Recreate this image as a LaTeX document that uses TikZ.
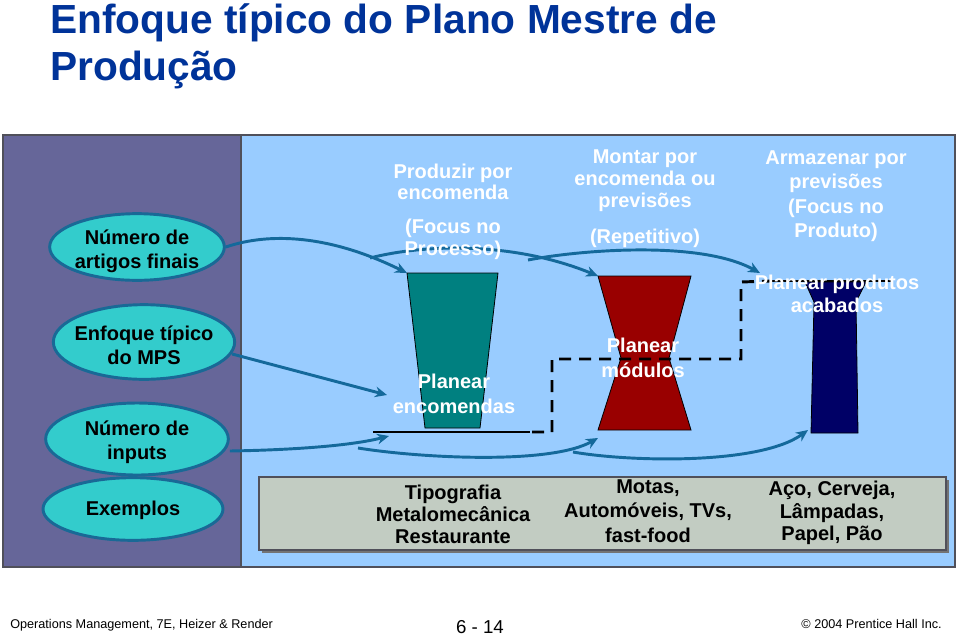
\documentclass[tikz,border=0pt]{standalone}
\usepackage{fontspec}
\setmainfont{Liberation Sans}
\usetikzlibrary{shapes.geometric,arrows.meta}
\definecolor{purplepanel}{RGB}{102,102,153}
\definecolor{bluepanel}{RGB}{153,204,255}
\definecolor{ellfill}{RGB}{51,204,204}
\definecolor{elledge}{RGB}{25,105,150}
\definecolor{arrowcol}{RGB}{20,105,155}
\definecolor{tealshape}{RGB}{0,128,128}
\definecolor{redshape}{RGB}{153,0,0}
\definecolor{navyshape}{RGB}{0,0,102}
\definecolor{titlecol}{RGB}{0,51,153}
\definecolor{boxfill}{RGB}{194,204,194}
\definecolor{framecol}{RGB}{80,80,90}
\tikzset{
  elli/.style={ellipse, draw=elledge, line width=2.2pt, fill=ellfill, inner sep=0pt},
  elltext/.style={align=center, inner sep=0pt, font=\fontsize{15}{18}\selectfont\bfseries, text=black},
  headtext/.style={align=center, inner sep=0pt, text=white},
  boxtext/.style={align=center, inner sep=0pt, text=black},
  flow/.style={draw=arrowcol, line width=2.2pt, -{Stealth[length=9pt,width=8pt]}},
  shapeedge/.style={draw=black, line width=0.6pt},
  bar/.style={draw=black, line width=2.2pt},
  dashedbar/.style={draw=black, line width=2.2pt, dash pattern=on 9pt off 6pt},
  titletext/.style={anchor=base west, inner sep=0pt, text=titlecol, font=\fontsize{30.5}{36}\selectfont\bfseries},
}
\begin{document}
\begin{tikzpicture}[x=0.75pt,y=-0.75pt]
\useasboundingbox (0,0) rectangle (959,636);
\fill[white] (0,0) rectangle (959,636);
% title
\node[titletext] (t1) at (50,33) {Enfoque típico do Plano Mestre de};
\node[titletext] (t2) at (50,80) {Produção};
% panels
\fill[bluepanel] (241,135) rectangle (955,567);
\fill[purplepanel] (3,135) rectangle (241,567);
\draw[framecol, line width=1pt] (241,135) -- (241,567);
\draw[framecol, line width=1.2pt] (3,135) rectangle (955,567);
% ellipses
\node[elli, minimum width=131pt, minimum height=50pt] (e1) at (137,247) {};
\node[elltext] at (137,251) {Número de\\artigos finais};
\node[elli, minimum width=136pt, minimum height=56pt] (e2) at (144,342) {};
\node[elltext] at (144,345) {Enfoque típico\\do MPS};
\node[elli, minimum width=137pt, minimum height=54pt] (e3) at (137,439) {};
\node[elltext] at (137,442) {Número de\\inputs};
\node[elli, minimum width=135pt, minimum height=47pt] (e4) at (133,509) {};
\node[elltext] at (133,510) {Exemplos};
% examples box
\fill[black!55] (262,480) rectangle (949,553);
\draw[fill=boxfill, draw=framecol, line width=1pt] (259,477) rectangle (946,550);
\node[boxtext, font=\fontsize{15}{16.5}\selectfont\bfseries] (x1) at (453,514) {Tipografia\\Metalomecânica\\Restaurante};
\node[boxtext, font=\fontsize{15}{18.3}\selectfont\bfseries] (x2) at (648,511) {Motas,\\Automóveis, TVs,\\fast-food};
\node[boxtext, font=\fontsize{15}{16.8}\selectfont\bfseries] (x3) at (832,513) {Aço, Cerveja,\\Lâmpadas,\\Papel, Pão};
% shapes
\coordinate (tTL) at (407,273); \coordinate (tTR) at (498,273);
\coordinate (tBR) at (480,428); \coordinate (tBL) at (425,428);
\filldraw[fill=tealshape, shapeedge] (tTL) -- (tTR) -- (tBR) -- (tBL) -- cycle;
\coordinate (rTL) at (598,276); \coordinate (rTR) at (691,276);
\coordinate (rMR) at (669,358); \coordinate (rBR) at (691,430);
\coordinate (rBL) at (598,430); \coordinate (rML) at (621,358);
\filldraw[fill=redshape, shapeedge] (rTL) -- (rTR) -- (rMR) -- (rBR) -- (rBL) -- (rML) -- cycle;
\coordinate (nTL) at (805,282); \coordinate (nTR) at (866,282);
\coordinate (nMR) at (856,302); \coordinate (nBR) at (858,433);
\coordinate (nBL) at (811,433); \coordinate (nML) at (814,302);
\filldraw[fill=navyshape, shapeedge] (nTL) -- (nTR) -- (nMR) -- (nBR) -- (nBL) -- (nML) -- cycle;
% bars
\coordinate (b1a) at (373,432); \coordinate (b1b) at (530,432);
\coordinate (b2a) at (770,281); \coordinate (b2b) at (892,281);
\draw[bar] (b1a) -- (b1b);
\draw[bar] (b2a) -- (b2b);
\draw[dashedbar] (532,432) -- (552,432) -- (552,359) -- (741,359) -- (741,282) -- (b2a);
% arrows
\coordinate (a2s) at (370,258);
\coordinate (a3s) at (528,260);
\coordinate (a3e) at (760,273);
\coordinate (a4e) at (387,395);
\coordinate (a5e) at (389,436);
\coordinate (a6s) at (358,448);
\coordinate (a7s) at (573,452);
\coordinate (a7e) at (808,430);
\coordinate (a6e) at (598,438);
\draw[flow] (e1.east) .. controls (270,232) and (330,235) .. (tTL);
\draw[flow] (a2s) .. controls (420,245) and (510,240) .. (rTL);
\draw[flow] (a3s) .. controls (580,250) and (700,240) .. (a3e);
\draw[flow] ([xshift=-3pt,yshift=-9pt]e2.east) -- (a4e);
\draw[flow] ([yshift=-9pt]e3.east) .. controls (290,450) and (350,446) .. (a5e);
\draw[flow] (a6s) .. controls (420,458) and (550,465) .. (a6e);
\draw[flow] (a7s) .. controls (630,462) and (760,465) .. (a7e);
% headings
\node[headtext, font=\fontsize{15}{15.8}\selectfont\bfseries] (h1) at (453,182) {Produzir por\\encomenda};
\node[headtext, font=\fontsize{15}{16.5}\selectfont\bfseries] (h1b) at (453,239) {(Focus no\\Processo)};
\node[headtext, font=\fontsize{15}{16.5}\selectfont\bfseries] (h2) at (645,181) {Montar por\\encomenda ou\\previsões};
\node[headtext, font=\fontsize{15}{16.5}\selectfont\bfseries] (h2b) at (645,238) {(Repetitivo)};
\node[headtext, font=\fontsize{15}{18.3}\selectfont\bfseries] (h3) at (836,196) {Armazenar por\\previsões\\(Focus no\\Produto)};
\node[headtext, font=\fontsize{15}{18.7}\selectfont\bfseries] (p1) at (454,394) {Planear\\encomendas};
\node[headtext, font=\fontsize{15}{18.7}\selectfont\bfseries] (p2) at (643,358) {Planear\\módulos};
\node[headtext, font=\fontsize{15}{17.3}\selectfont\bfseries] (p3) at (837,294) {Planear produtos\\acabados};
% footer
\node[anchor=base west, inner sep=0pt, font=\fontsize{9.5}{11}\selectfont] (f1) at (10,628) {Operations Management, 7E, Heizer \& Render};
\node[anchor=base, inner sep=0pt, font=\fontsize{14}{15}\selectfont] (f2) at (480,633) {6 - 14};
\node[anchor=base east, inner sep=0pt, font=\fontsize{9.5}{11}\selectfont] (f3) at (942,628) {© 2004 Prentice Hall Inc.};
\end{tikzpicture}
\end{document}
